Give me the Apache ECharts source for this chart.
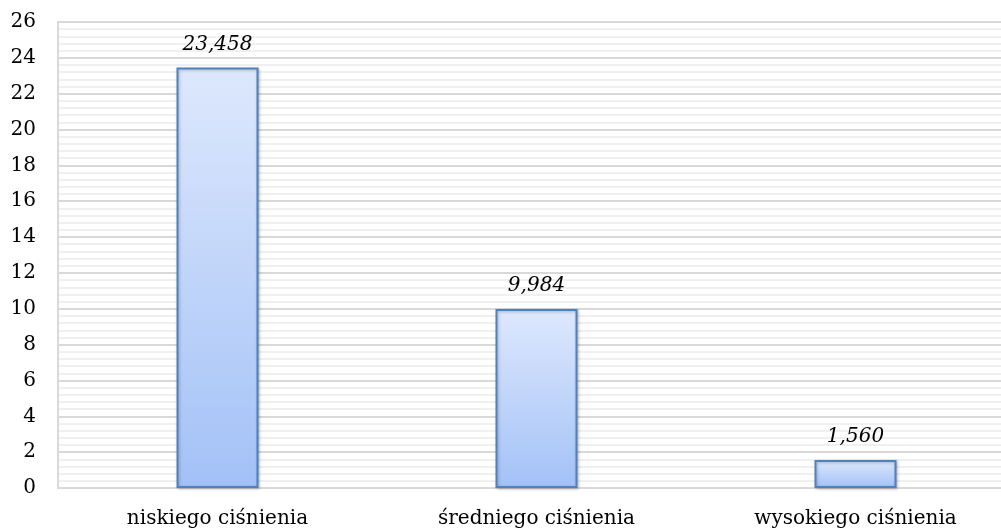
<!DOCTYPE html>
<html><head><meta charset="utf-8">
<script src="https://cdn.jsdelivr.net/npm/echarts@6/dist/echarts.min.js"></script>
<style>html,body{margin:0;padding:0;background:#fff;overflow:hidden}#c{width:1015px;height:531px}</style>
</head><body><div id="c"></div>
<script>
const categories = ['niskiego ciśnienia', 'średniego ciśnienia', 'wysokiego ciśnienia'];
const values = [23.458, 9.984, 1.560];
const labels = ['23,458', '9,984', '1,560'];
const font = '"DejaVu Serif", "Liberation Serif", serif';
const chart = echarts.init(document.getElementById('c'));
chart.setOption({
  animation: false,
  grid: {left: 58, top: 22, right: 0, bottom: 43, containLabel: false},
  xAxis: {
    type: 'category', data: categories,
    axisLine: {lineStyle: {color: '#d9d9d9', width: 2}},
    axisTick: {show: false},
    axisLabel: {color: '#000', fontFamily: font, fontSize: 20, margin: 21}
  },
  yAxis: {
    type: 'value', min: 0, max: 26, interval: 2,
    axisLine: {show: true, lineStyle: {color: '#d9d9d9', width: 2}},
    axisTick: {show: false},
    axisLabel: {color: '#000', fontFamily: font, fontSize: 20, margin: 22},
    splitLine: {lineStyle: {color: '#d9d9d9', width: 2}},
    minorTick: {show: false, splitNumber: 5},
    minorSplitLine: {show: true, lineStyle: {color: '#f0f0f0', width: 2}}
  },
  series: [{
    type: 'bar', data: values, barWidth: 82,
    itemStyle: {
      color: new echarts.graphic.LinearGradient(0, 0, 0, 1, [
        {offset: 0, color: '#dde8fc'}, {offset: 1, color: '#a3c1f7'}]),
      borderColor: '#4f81bd', borderWidth: 2,
      shadowColor: 'rgba(0,0,0,0.25)', shadowBlur: 3, shadowOffsetX: 1, shadowOffsetY: 1
    },
    label: {
      show: true, position: 'top', distance: 13,
      formatter: p => labels[p.dataIndex],
      fontFamily: font, fontStyle: 'italic', fontSize: 20, color: '#000'
    }
  }]
});
</script></body></html>
